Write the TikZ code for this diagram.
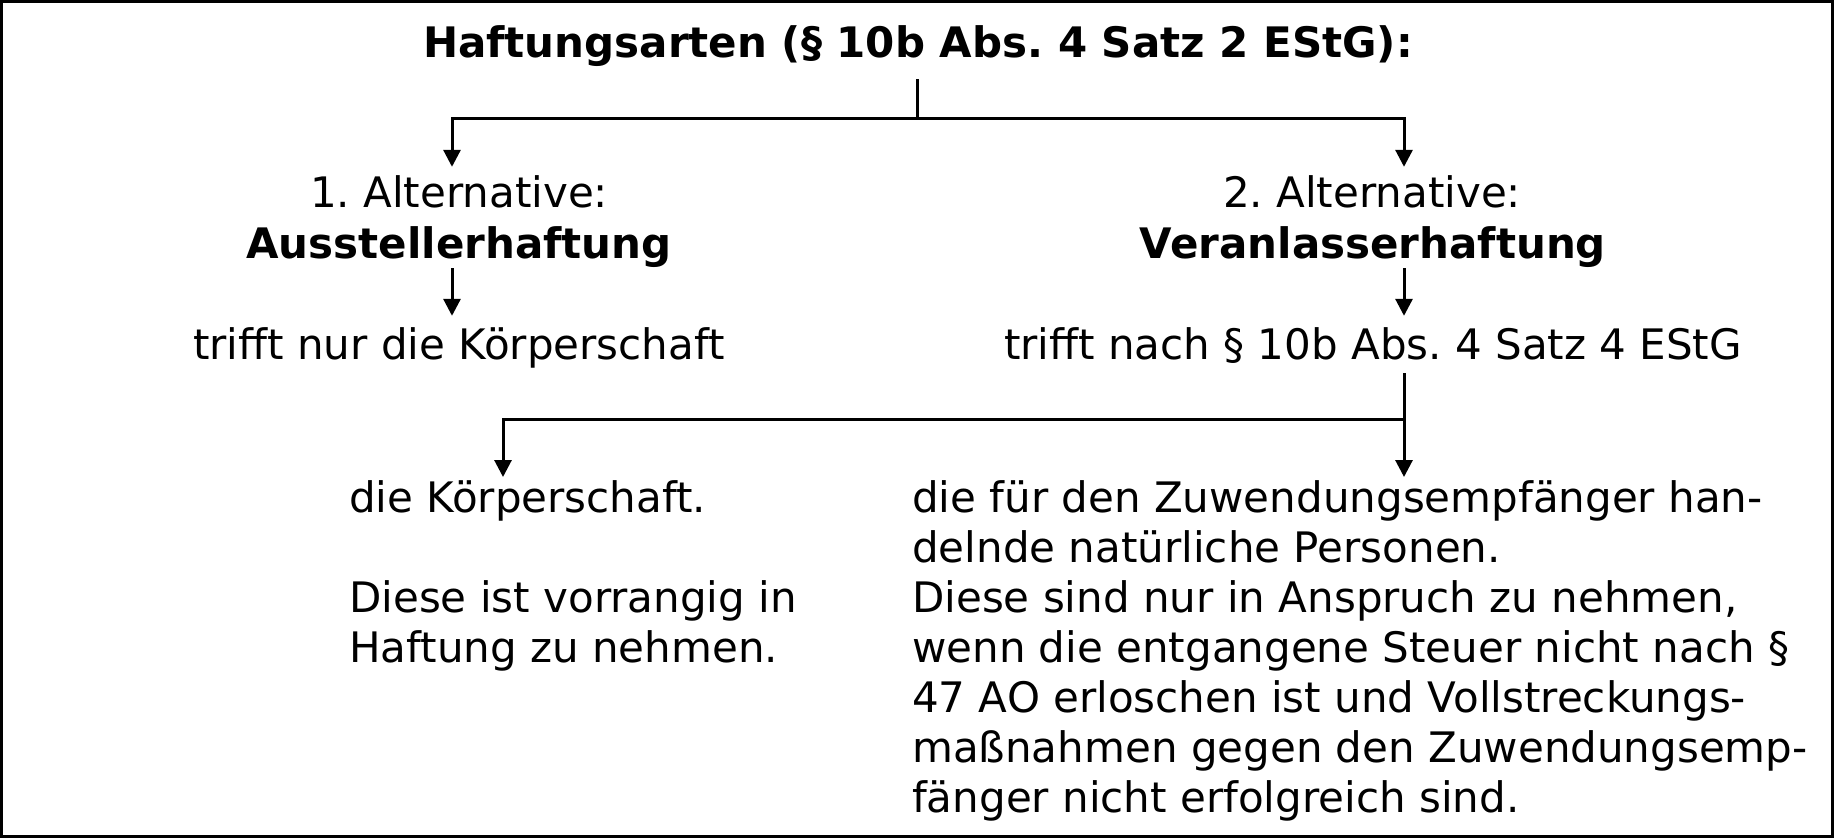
\documentclass[tikz,border=0pt]{standalone}
\usepackage{fontspec}
\setmainfont{DejaVu Sans}
\usetikzlibrary{arrows.meta}
\frenchspacing
\begin{document}
\begin{tikzpicture}[x=1pt,y=-1pt,
  txt/.style={inner sep=0pt, anchor=base, font=\fontsize{42}{50}\selectfont, text height=32pt},
  btxt/.style={txt, font=\fontsize{42}{50}\selectfont\bfseries},
  blk/.style={inner sep=0pt, anchor=north west, align=left, font=\fontsize{42}{50}\selectfont},
  conn/.style={line width=3pt},
  arr/.style={conn, -{Triangle[width=17pt,length=17pt]}}]
\useasboundingbox (0,0) rectangle (1834,838);
\draw[line width=3pt] (1.5,1.5) rectangle (1832.5,836.5);

\node[btxt, text depth=22pt] (t) at (918,57) {\frenchspacing Haftungsarten (§ 10b Abs. 4 Satz 2 EStG):};

\node[txt] (a1) at (459,207) {\frenchspacing 1. Alternative:};
\node[btxt, text depth=10pt] (b1) at (459,258) {Ausstellerhaftung};
\node[txt] (c1) at (459,359) {trifft nur die Körperschaft};

\node[txt] (a2) at (1372,207) {\frenchspacing 2. Alternative:};
\node[btxt, text depth=10pt] (b2) at (1373,258) {Veranlasserhaftung};
\node[txt, text depth=14pt] (c2) at (1373,359) {\frenchspacing trifft nach § 10b Abs. 4 Satz 4 EStG};

\node[blk] (d1) at (349,480) {\rule{0pt}{32pt}die Körperschaft.\\[50pt]Diese ist vorrangig in\\Haftung zu nehmen.};
\node[blk] (d2) at (912,480) {\rule{0pt}{32pt}die für den Zuwendungsempfänger han-\\delnde natürliche Personen.\\Diese sind nur in Anspruch zu nehmen,\\wenn die entgangene Steuer nicht nach §\\47 AO erloschen ist und Vollstreckungs-\\maßnahmen gegen den Zuwendungsemp-\\fänger nicht erfolgreich sind.};

\coordinate (J) at (917,118);
\coordinate (L) at (452,118);
\coordinate (R) at (1404,118);
\coordinate (M) at (1404,419);
\coordinate (L2) at (503,419);

\draw[conn] (t.south -| J) -- (J);
\draw[arr] (J) -| ([yshift=8pt]a1.north -| L);
\draw[arr] (J) -| ([yshift=8pt]a2.north -| R);
\draw[arr] (b1.south -| L) -- ([yshift=11pt]c1.north -| L);
\draw[arr] (b2.south -| R) -- ([yshift=11pt]c2.north -| R);
\draw[conn] (c2.south -| M) -- (M);
\draw[arr] (M) -| ([yshift=3pt]d1.north -| L2);
\draw[arr] (M) -- ([yshift=3pt]d2.north -| M);
\end{tikzpicture}
\end{document}
